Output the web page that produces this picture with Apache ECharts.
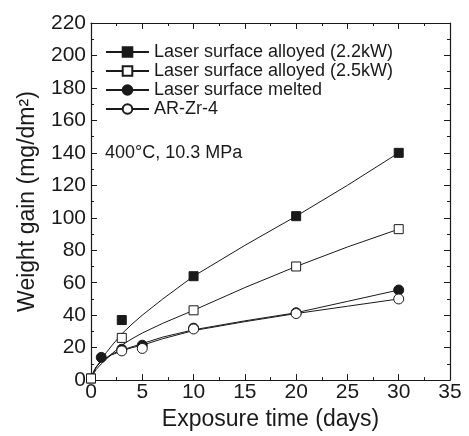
<!DOCTYPE html>
<html><head><meta charset="utf-8">
<script src="https://cdn.jsdelivr.net/npm/echarts@6/dist/echarts.min.js"></script>
<style>html,body{margin:0;padding:0;background:#fff}#c{width:469px;height:436px}</style>
</head><body><div id="c"></div>
<script>
// Measured points (days, mg/dm^2)
var names = ['Laser surface alloyed (2.2kW)','Laser surface alloyed (2.5kW)','Laser surface melted','AR-Zr-4'];
var pts22 = [[0,1],[3,37],[10,64],[20,101],[30,140]];
var pts25 = [[0,1],[3,26],[10,43],[20,70],[30,93]];
var ptsLSM = [[1,14],[3,19],[5,21.5],[10,32],[20,41.5],[30,55.5]];
var ptsAR = [[3,18],[5,19.5],[10,31.5],[20,41],[30,50]];
// Fitted curves, values
var fit22 = [[0,0],[0.25,5],[0.5,8],[1,12.5],[1.5,17],[2,21],[3,28.5],[4,34.5],[5,40],[7,50],[10,64],[15,83],[20,101],[25,120],[30,140]];
var fit25 = [[0,0],[0.25,4],[0.5,6.5],[1,10],[1.5,13],[2,16],[3,21.5],[4,25.5],[5,29],[7,35],[10,43],[15,57],[20,70],[25,82],[30,93]];
var fitLSM = [[0,0],[0.25,5],[0.5,8],[1,11.5],[2,16],[3,18.5],[4,20.5],[5,22.5],[7,26.5],[10,31],[15,36.5],[20,41.5],[25,48.5],[30,55.5]];
var fitAR = [[0,0],[0.25,5],[0.5,8],[1,11.5],[2,15.5],[3,18],[4,20],[5,21.5],[7,25.5],[10,30.5],[15,36],[20,41],[25,45.5],[30,50]];
var xTicks = [0,5,10,15,20,25,30,35];
var yTicks = [0,20,40,60,80,100,120,140,160,180,200,220];

var ink = '#1a1a1a';
var font = 'Liberation Sans, Arial, sans-serif';
var symbols = ['rect','rect','circle','circle'];
var fills = [ink,'#fff',ink,'#fff'];
var sizes = [9,9,10,10];
var fits = [fit22,fit25,fitLSM,fitAR];
var pts = [pts22,pts25,ptsLSM,ptsAR];

function axisCommon(show){
  return {
    axisLine:{show:true,onZero:false,lineStyle:{color:ink,width:1.2}},
    axisTick:{show:true,inside:true,length:6,lineStyle:{color:ink,width:1}},
    minorTick:{show:true,splitNumber:2,length:3,lineStyle:{color:ink,width:1}},
    splitLine:{show:false},
    axisLabel:{show:show,color:ink,fontSize:21,fontFamily:font}
  };
}
var series = [];
for (var i=0;i<4;i++){
  series.push({name:names[i],type:'line',data:fits[i],smooth:false,
    showSymbol:false,symbol:symbols[i],symbolSize:sizes[i],
    lineStyle:{color:ink,width:1},
    itemStyle:{color:fills[i],borderColor:ink,borderWidth:1},
    z:2,silent:true});
}
for (var j=0;j<4;j++){
  series.push({name:names[j],type:'scatter',data:pts[j],symbol:symbols[j],symbolSize:sizes[j],
    itemStyle:{color:fills[j],borderColor:ink,borderWidth:1,opacity:1},z:3+j});
}
var x0 = Object.assign({type:'value',position:'bottom',min:xTicks[0],max:xTicks[xTicks.length-1],interval:5,
  name:'Exposure time (days)',nameLocation:'middle',nameGap:23,
  nameTextStyle:{color:ink,fontSize:23,fontFamily:font}}, axisCommon(true));
x0.axisLabel.margin = 2;
var x1 = Object.assign({type:'value',position:'top',min:0,max:35,interval:5}, axisCommon(false));
var y0 = Object.assign({type:'value',position:'left',min:yTicks[0],max:yTicks[yTicks.length-1],interval:20,
  name:'Weight gain (mg/dm²)',nameLocation:'middle',nameGap:52,
  nameTextStyle:{color:ink,fontSize:23,fontFamily:font}}, axisCommon(true));
y0.axisLabel.margin = 5;
var y1 = Object.assign({type:'value',position:'right',min:0,max:220,interval:20}, axisCommon(false));

var chart = echarts.init(document.getElementById('c'),null,{renderer:'canvas'});
chart.setOption({
  animation:false,
  backgroundColor:'#fff',
  grid:{left:91,right:19,top:23,bottom:53,containLabel:false},
  xAxis:[x0,x1],
  yAxis:[y0,y1],
  legend:{data:names,orient:'vertical',left:105,top:43,itemWidth:43,itemHeight:12,itemGap:1,padding:0,
    textStyle:{color:ink,fontSize:18,lineHeight:18,fontFamily:font},selectedMode:false},
  graphic:[{type:'text',left:105,top:144,style:{text:'400°C, 10.3 MPa',fill:ink,fontSize:18,fontFamily:font}}],
  series:series
});
</script></body></html>
